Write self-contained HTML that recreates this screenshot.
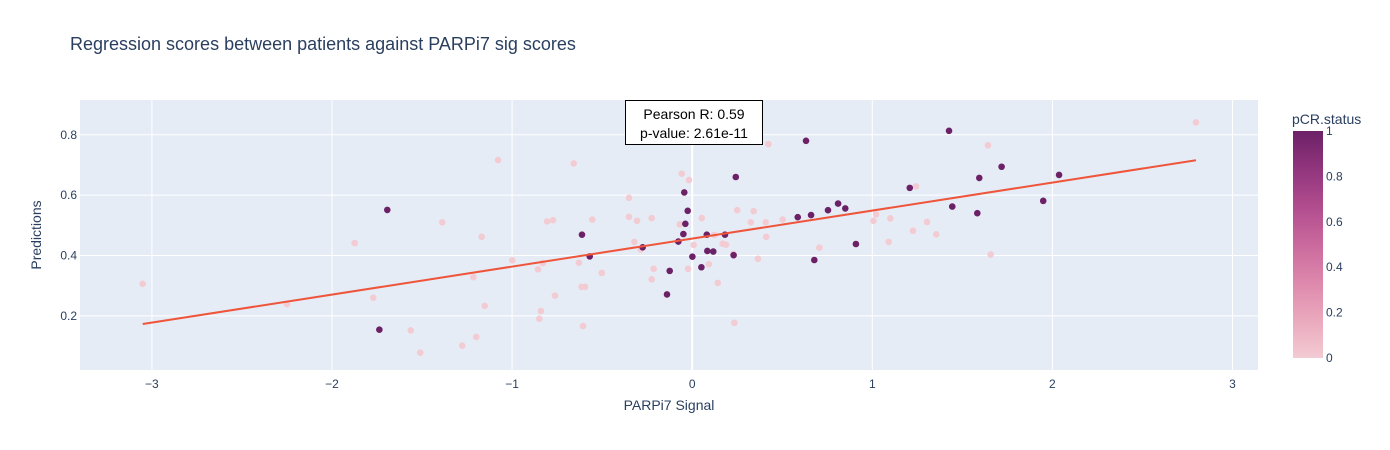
<!DOCTYPE html>
<html><head><meta charset="utf-8">
<style>
html,body{margin:0;padding:0;background:#fff;}
svg{display:block;font-family:"Liberation Sans",Arial,sans-serif;}
</style></head>
<body>
<svg id="chart" width="1390" height="450" viewBox="0 0 1390 450">
<defs>
<linearGradient id="cbgrad" x1="0" y1="1" x2="0" y2="0">
<stop offset="0" stop-color="#f3cbd3"/><stop offset="0.1667" stop-color="#eaa9bd"/><stop offset="0.3333" stop-color="#dd88ac"/><stop offset="0.5" stop-color="#ca699d"/><stop offset="0.6667" stop-color="#b14d8e"/><stop offset="0.8333" stop-color="#91357d"/><stop offset="1" stop-color="#6c2167"/>
</linearGradient>
</defs>
<text x="70" y="50" font-size="18" fill="#2a3f5f">Regression scores between patients against PARPi7 sig scores</text>
<rect x="80" y="100" width="1178" height="270" fill="#e5ecf6"/>
<g id="grid"></g>
<g id="xticks"></g>
<g id="yticks"></g>
<g id="points"></g>
<g id="fit"></g>
<text x="669" y="410" font-size="14" fill="#2a3f5f" text-anchor="middle">PARPi7 Signal</text>
<text x="0" y="0" font-size="14" fill="#2a3f5f" text-anchor="middle" transform="translate(41,235) rotate(-90)">Predictions</text>
<g>
<rect x="625.5" y="100.5" width="137" height="44" fill="#fff" stroke="#000" stroke-width="1"/>
<text x="694" y="119" font-size="14" fill="#000" text-anchor="middle">Pearson R: 0.59</text>
<text x="694" y="138" font-size="14" fill="#000" text-anchor="middle">p-value: 2.61e-11</text>
</g>
<text x="1292" y="124" font-size="14" fill="#2a3f5f">pCR.status</text>
<rect x="1293" y="131" width="30" height="227" fill="url(#cbgrad)"/>
<g id="cbticks"></g>
</svg>
<script>
const xVals=[-3.051,-1.693,-1.388,-1.874,-2.250,-1.771,-1.737,-1.563,-1.510,-1.277,-1.199,-1.215,-1.169,-1.078,-1.152,-0.999,-0.856,-0.830,-0.806,-0.773,-0.762,-0.840,-0.849,-0.658,-0.612,-0.569,-0.629,-0.555,-0.502,-0.614,-0.595,-0.606,-0.351,-0.351,-0.306,-0.225,-0.321,-0.286,-0.275,-0.214,-0.225,-0.125,-0.140,-0.058,-0.018,-0.044,-0.025,-0.038,-0.069,-0.049,-0.077,0.008,0.001,-0.023,0.053,0.081,0.084,0.117,0.051,0.092,0.142,0.123,0.169,0.188,0.182,0.228,0.230,0.242,0.250,0.234,0.423,0.632,0.341,0.325,0.408,0.411,0.365,0.502,0.586,0.660,0.754,0.810,0.850,0.706,0.678,0.909,1.426,1.642,1.718,1.594,1.208,1.243,2.037,1.949,1.444,1.583,1.006,1.021,1.100,1.304,1.226,1.355,1.091,1.657,2.797];
const yVals=[0.306,0.551,0.510,0.441,0.239,0.260,0.154,0.152,0.078,0.101,0.130,0.328,0.462,0.716,0.233,0.384,0.354,0.375,0.513,0.517,0.267,0.216,0.190,0.705,0.469,0.397,0.376,0.519,0.342,0.296,0.296,0.166,0.591,0.528,0.515,0.524,0.445,0.420,0.427,0.356,0.321,0.349,0.271,0.671,0.650,0.609,0.548,0.505,0.503,0.471,0.446,0.435,0.396,0.356,0.524,0.469,0.415,0.413,0.361,0.371,0.309,0.468,0.439,0.436,0.469,0.405,0.401,0.660,0.550,0.177,0.769,0.780,0.547,0.510,0.510,0.462,0.389,0.519,0.527,0.534,0.550,0.572,0.556,0.426,0.385,0.438,0.813,0.765,0.694,0.657,0.624,0.629,0.667,0.581,0.562,0.540,0.515,0.536,0.523,0.511,0.482,0.470,0.445,0.403,0.841];
const pcrVals=[0,1,0,0,0,0,1,0,0,0,0,0,0,0,0,0,0,0,0,0,0,0,0,0,1,1,0,0,0,0,0,0,0,0,0,0,0,0,1,0,0,1,1,0,0,1,1,1,0,1,1,0,1,0,0,1,1,1,1,0,0,0,0,0,1,0,1,1,0,0,0,1,0,0,0,0,0,0,1,1,1,1,1,0,1,1,1,0,1,1,1,0,1,1,1,1,0,0,0,0,0,0,0,0,0];
const xTicks=[-3,-2,-1,0,1,2,3];
const yTicks=[0.2,0.4,0.6,0.8];
const cbTicks=[0,0.2,0.4,0.6,0.8,1];
const fitSlope=0.0928, fitIntercept=0.456;

const NS='http://www.w3.org/2000/svg';
const xs=v=>692.2+180.1*v;
const ys=v=>376.2-301.8*v;
const cbY=v=>358-227*v;
function mk(tag,attrs,parent){const e=document.createElementNS(NS,tag);for(const k in attrs)e.setAttribute(k,attrs[k]);parent.appendChild(e);return e;}
const grid=document.getElementById('grid'),xt=document.getElementById('xticks'),yt=document.getElementById('yticks');
xTicks.forEach(t=>{
  const l=mk('line',{x1:xs(t),x2:xs(t),y1:100,y2:370,stroke:'#fff','stroke-width':t===0?2:1},grid);
  
  
  const tx=mk('text',{x:xs(t),y:388,'font-size':12,fill:'#2a3f5f','text-anchor':'middle'},xt);
  tx.textContent=t<0?'\u2212'+Math.abs(t):String(t);
  
  
});
yTicks.forEach(t=>{
  const l=mk('line',{x1:80,x2:1258,y1:ys(t),y2:ys(t),stroke:'#fff','stroke-width':1},grid);
  
  
  const tx=mk('text',{x:77,y:ys(t)+4,'font-size':12,fill:'#2a3f5f','text-anchor':'end'},yt);
  tx.textContent=t.toFixed(1);
  
  
});
const pts=document.getElementById('points');
[0,1].forEach(cls=>{
  xVals.forEach((x,i)=>{
    if(pcrVals[i]!==cls)return;
    const c=mk('circle',{cx:xs(x),cy:ys(yVals[i]),r:3.3,fill:cls?'#6c2167':'#f3cbd3'},pts);
    
    
  });
});
const xmin=Math.min(...xVals),xmax=Math.max(...xVals);
const fl=mk('line',{x1:xs(xmin),y1:ys(fitIntercept+fitSlope*xmin),x2:xs(xmax),y2:ys(fitIntercept+fitSlope*xmax),stroke:'#ef553b','stroke-width':2},document.getElementById('fit'));


const cb=document.getElementById('cbticks');
cbTicks.forEach(t=>{
  const tx=mk('text',{x:1326,y:cbY(t)+4,'font-size':12,fill:'#2a3f5f'},cb);
  tx.textContent=String(t);
  
  
});
</script>
</body></html>
